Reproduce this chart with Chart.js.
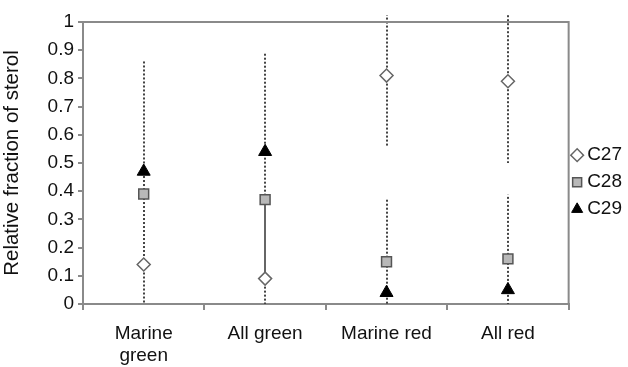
<!DOCTYPE html>
<html>
<head>
<meta charset="utf-8">
<script src="https://cdn.jsdelivr.net/npm/chart.js@4/dist/chart.umd.min.js"></script>
<style>
  body { margin: 0; background: #fff; }
</style>
</head>
<body>
<canvas id="myChart" width="628" height="367"></canvas>
<script>
// categories and sterol fractions
var groups = [['Marine', 'green'], 'All green', 'Marine red', 'All red'];
var c27 = [0.14, 0.09, 0.81, 0.79];
var c28 = [0.39, 0.37, 0.15, 0.16];
var c29 = [0.47, 0.54, 0.04, 0.05];

// error bar ends (low, high) per series
var c27Low = [0, 0, 0.56, 0.50];
var c27High = [0.14, 0.09, 1.025, 1.025];
var c28Low = [0.14, 0.09, 0, 0];
var c28High = [0.47, 0.54, 0.376, 0.387];
var c29Low = [0.47, 0.54, 0.04, 0.05];
var c29High = [0.865, 0.894, 0.04, 0.05];
// lower arm of C28 drawn solid for these groups
var c28LowSolid = [false, true, false, false];

var yTicks = [0, 0.1, 0.2, 0.3, 0.4, 0.5, 0.6, 0.7, 0.8, 0.9, 1];

var FONT = 'Liberation Sans, Arial, sans-serif';
var AXIS = '#8a8a8a';
var TEXT = '#111';

var errorBars = {
    id: 'errorBars',
    beforeDatasetsDraw: function(chart) {
        var ctx = chart.ctx;
        var x = chart.scales.x, y = chart.scales.y;
        var sets = [[c27, c27Low, c27High], [c28, c28Low, c28High], [c29, c29Low, c29High]];
        ctx.save();
        ctx.lineWidth = 2;
        sets.forEach(function(s, si) {
            for (var i = 0; i < groups.length; i++) {
                var px = Math.round(x.getPixelForValue(i));
                var mid = y.getPixelForValue(s[0][i]);
                // lower arm
                var solid = si === 1 && c28LowSolid[i];
                ctx.setLineDash(solid ? [] : [2, 2]);
                ctx.strokeStyle = solid ? '#666' : '#444';
                ctx.beginPath();
                ctx.moveTo(px, mid);
                ctx.lineTo(px, y.getPixelForValue(s[1][i]));
                ctx.stroke();
                // upper arm
                ctx.setLineDash([2, 2]);
                ctx.strokeStyle = '#444';
                ctx.beginPath();
                ctx.moveTo(px, mid);
                ctx.lineTo(px, y.getPixelForValue(s[2][i]));
                ctx.stroke();
            }
        });
        ctx.restore();
    }
};

var frame = {
    id: 'frame',
    afterDraw: function(chart) {
        var a = chart.chartArea, ctx = chart.ctx;
        ctx.save();
        ctx.strokeStyle = AXIS;
        ctx.lineWidth = 2;
        ctx.beginPath();
        ctx.moveTo(a.left, a.top);
        ctx.lineTo(a.right, a.top);
        ctx.lineTo(a.right, a.bottom);
        ctx.stroke();
        ctx.restore();
    }
};

var ctx = document.getElementById('myChart').getContext('2d');
var chart = new Chart(ctx, {
    type: 'line',
    data: {
        labels: groups,
        datasets: [{
            label: 'C27',
            data: c27,
            showLine: false,
            pointStyle: 'rectRot',
            pointRadius: 6.5,
            pointBorderWidth: 1.5,
            pointBackgroundColor: '#fff',
            pointBorderColor: '#666',
            backgroundColor: '#fff',
            borderColor: '#666'
        },
        {
            label: 'C28',
            data: c28,
            showLine: false,
            pointStyle: 'rect',
            pointRadius: 7,
            pointBorderWidth: 1.5,
            pointBackgroundColor: '#b8b8b8',
            pointBorderColor: '#555',
            backgroundColor: '#b8b8b8',
            borderColor: '#555'
        },
        {
            label: 'C29',
            data: c29,
            showLine: false,
            pointStyle: 'triangle',
            pointRadius: 7.5,
            pointBorderWidth: 1,
            pointBackgroundColor: '#000',
            pointBorderColor: '#000',
            backgroundColor: '#000',
            borderColor: '#000'
        }]
    },
    options: {
        responsive: false,
        animation: false,
        layout: { padding: { top: 22, left: 0, right: -4, bottom: 0 } },
        plugins: {
            tooltip: { enabled: false },
            legend: {
                position: 'right',
                fullSize: false,
                title: { display: true, text: '', font: { size: 12 }, padding: { top: 24, bottom: 0 } },
                labels: {
                    usePointStyle: true,
                    boxWidth: 1,
                    boxHeight: 9,
                    padding: 8,
                    color: TEXT,
                    font: { family: FONT, size: 19 }
                }
            }
        },
        scales: {
            x: {
                offset: true,
                grid: { offset: true, drawOnChartArea: false, tickLength: 6, color: AXIS, lineWidth: 2 },
                border: { color: AXIS, width: 2 },
                ticks: { color: TEXT, padding: 12, maxRotation: 0, font: { family: FONT, size: 19 } },
                afterFit: function(s) { s.height = 63; }
            },
            y: {
                min: 0,
                max: 1,
                afterBuildTicks: function(s) { s.ticks = yTicks.map(function(v) { return { value: v }; }); },
                grid: { drawOnChartArea: false, tickLength: 5, color: AXIS, lineWidth: 2 },
                border: { color: AXIS, width: 2 },
                ticks: {
                    color: TEXT,
                    padding: 4,
                    font: { family: FONT, size: 19 },
                    callback: function(v) { return v === 0 || v === 1 ? String(v) : v.toFixed(1); }
                },
                title: {
                    display: true,
                    text: 'Relative fraction of sterol',
                    color: TEXT,
                    font: { family: FONT, size: 20.5 },
                    padding: { top: 0, bottom: 0 }
                },
                afterFit: function(s) { s.width = 83; }
            }
        }
    },
    plugins: [errorBars, frame]
});
</script>
</body>
</html>
